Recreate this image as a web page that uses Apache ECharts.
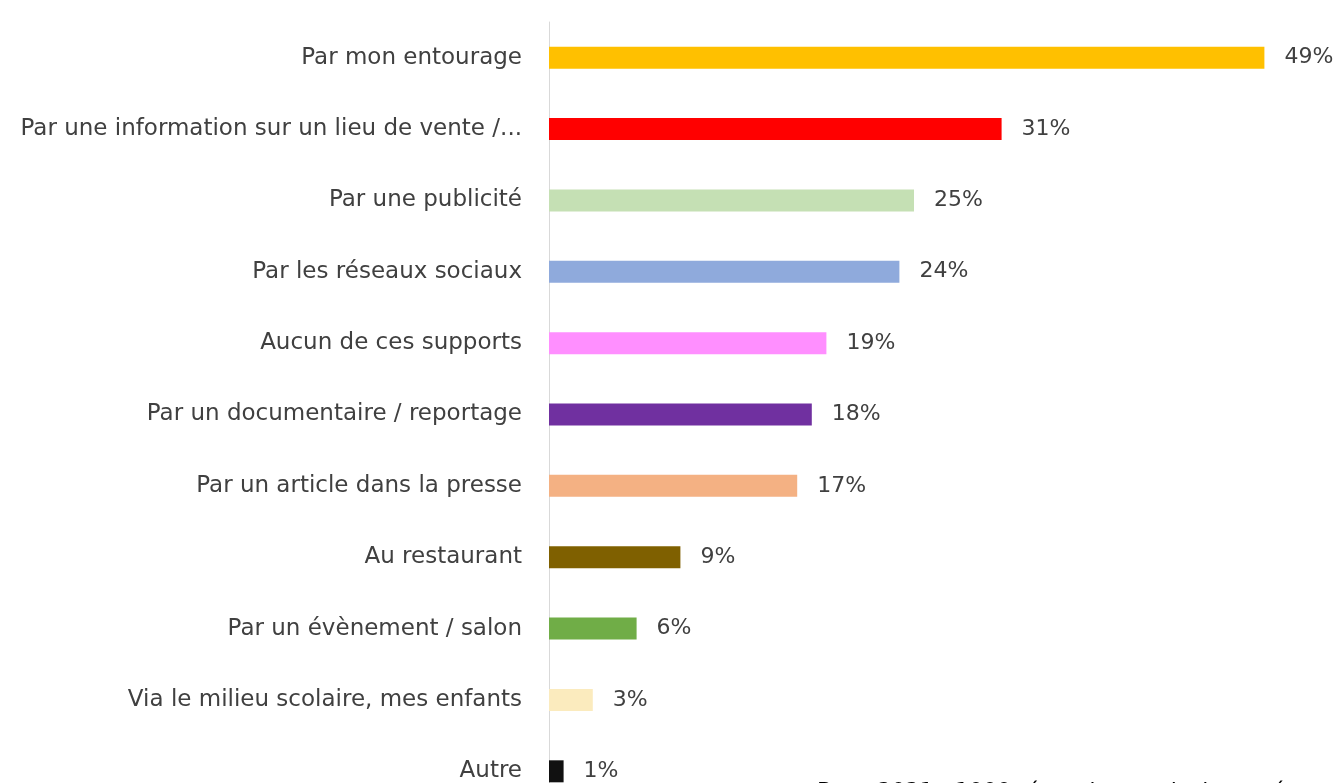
<!DOCTYPE html>
<html>
<head>
<meta charset="utf-8">
<script src="https://cdn.jsdelivr.net/npm/echarts@6/dist/echarts.min.js"></script>
<style>
  html, body { margin: 0; padding: 0; background: #ffffff; }
  #chart { width: 1339px; height: 783px; }
</style>
</head>
<body>
<div id="chart"></div>
<script>
// Canaux de connaissance (en % des répondants)
const categories = [
  'Par mon entourage',
  'Par une information sur un lieu de vente /...',
  'Par une publicité',
  'Par les réseaux sociaux',
  'Aucun de ces supports',
  'Par un documentaire / reportage',
  'Par un article dans la presse',
  'Au restaurant',
  'Par un évènement / salon',
  'Via le milieu scolaire, mes enfants',
  'Autre'
];
const values = [49, 31, 25, 24, 19, 18, 17, 9, 6, 3, 1];
const barColors = [
  '#FFC000', '#FF0000', '#C5E0B4', '#8FAADC', '#FF8FFF', '#7030A0',
  '#F4B183', '#7F6000', '#70AD47', '#FBEBBE', '#111111'
];
const footnote = 'Base 2021 : 1000 répondants, plusieurs réponses possibles';

const FONT = 'DejaVu Sans, sans-serif';
const chart = echarts.init(document.getElementById('chart'));
chart.setOption({
  animation: false,
  backgroundColor: '#ffffff',
  textStyle: { fontFamily: FONT },
  grid: {
    left: 549, right: 60, top: 22, height: 785,
    containLabel: false, outerBoundsMode: 'none'
  },
  xAxis: {
    type: 'value', min: 0, max: 50,
    show: false
  },
  yAxis: {
    type: 'category',
    inverse: true,
    data: categories,
    axisLine: { show: true, lineStyle: { color: '#d9d9d9', width: 1 } },
    axisTick: { show: false },
    axisLabel: { color: '#404040', fontSize: 23, margin: 27, fontFamily: FONT }
  },
  series: [{
    type: 'bar',
    barWidth: 22,
    data: values.map((v, i) => ({ value: v, itemStyle: { color: barColors[i] } })),
    label: {
      show: true, position: 'right', distance: 20,
      color: '#404040', fontSize: 22, fontFamily: FONT,
      formatter: p => p.value + '%'
    }
  }],
  graphic: [{
    type: 'text', left: 817, top: 781,
    style: { text: footnote, fill: '#000000', font: '22px DejaVu Sans, sans-serif' }
  }]
});
</script>
</body>
</html>
